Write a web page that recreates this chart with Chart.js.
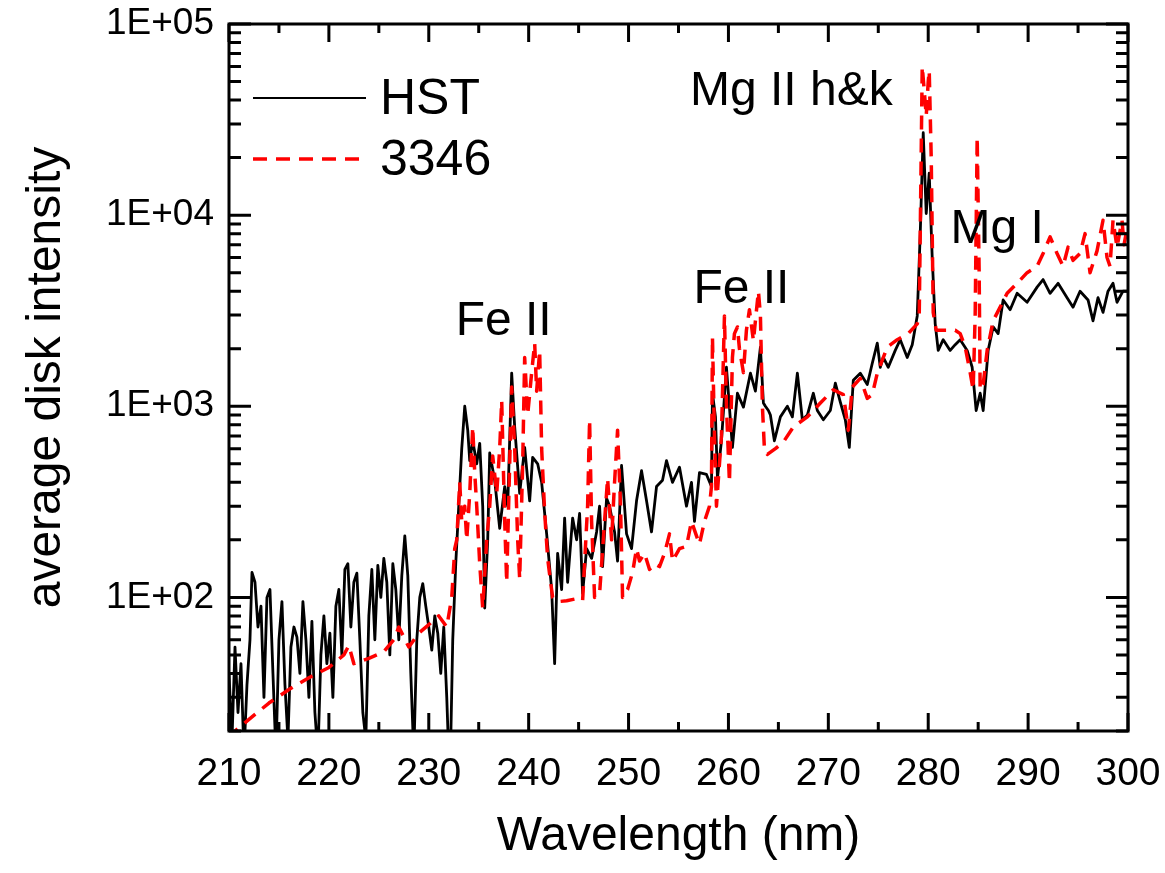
<!DOCTYPE html>
<html>
<head>
<meta charset="utf-8">
<script src="https://cdn.jsdelivr.net/npm/chart.js@4.4.0/dist/chart.umd.min.js"></script>
<style>
  html, body { margin: 0; padding: 0; background: #fff; }
</style>
</head>
<body>
<canvas id="spectrum" width="1165" height="873"></canvas>
<script>
// wavelength (nm) and intensity
const hstWavelength = [
  210.0, 210.3, 210.6, 210.9, 211.2, 211.5, 211.8, 212.1, 212.3, 212.6,
  212.9, 213.2, 213.5, 213.8, 214.1, 214.4, 214.7, 215.0, 215.3, 215.6,
  215.9, 216.2, 216.5, 216.8, 217.1, 217.4, 217.7, 218.0, 218.3, 218.6,
  218.9, 219.2, 219.5, 219.8, 220.1, 220.4, 220.7, 221.0, 221.3, 221.6,
  221.9, 222.2, 222.5, 222.8, 223.1, 223.4, 223.7, 224.0, 224.3, 224.6,
  224.9, 225.2, 225.5, 225.8, 226.1, 226.4, 226.7, 227.0, 227.3, 227.6,
  227.9, 228.2, 228.5, 228.8, 229.1, 229.4, 229.7, 230.0, 230.3, 230.6,
  230.9, 231.2, 231.5, 231.8, 232.0, 232.2, 232.4, 232.7, 233.0, 233.3,
  233.6, 233.9, 234.1, 234.4, 234.8, 235.1, 235.4, 235.6, 235.9, 236.1,
  236.6, 237.1, 237.6, 237.9, 238.3, 238.6, 239.1, 239.6, 240.1, 240.4,
  240.9, 241.3, 241.8, 242.3, 242.6, 242.9, 243.3, 243.6, 243.9, 244.4,
  244.8, 245.1, 245.4, 245.8, 246.3, 246.8, 247.1, 247.4, 247.8, 248.1,
  248.6, 248.9, 249.3, 249.8, 250.3, 250.8, 251.3, 251.8, 252.3, 252.8,
  253.4, 253.8, 254.4, 255.1, 255.8, 256.3, 256.6, 257.1, 257.8, 258.3,
  258.4, 258.7, 258.9, 259.3, 259.8, 260.4, 260.9, 261.5, 262.2, 262.7,
  263.2, 263.5, 263.7, 264.0, 264.2, 264.6, 265.2, 265.9, 266.4, 266.9,
  267.4, 267.9, 268.5, 268.9, 269.5, 270.2, 270.7, 271.2, 271.7, 272.1,
  272.5, 273.2, 273.9, 274.4, 274.9, 275.2, 275.5, 276.0, 276.7, 277.2,
  277.9, 278.4, 278.9, 279.2, 279.5, 279.8, 280.1, 280.4, 280.7, 281.0,
  281.5, 282.2, 282.7, 283.2, 283.9, 284.4, 284.8, 285.2, 285.5, 286.0,
  286.5, 287.0, 287.5, 288.2, 288.9, 289.9, 290.9, 291.5, 292.2, 293.0,
  293.9, 294.5, 295.2, 296.0, 296.5, 297.0, 297.5, 298.0, 298.5, 298.9,
  299.5, 300.0
];
const hstIntensity = [
  40, 18, 55, 25, 45, 15, 35, 60, 135, 120,
  70, 90, 30, 100, 110, 40, 15, 60, 95, 35,
  18, 55, 70, 62, 40, 95, 60, 30, 75, 25,
  15, 50, 80, 45, 65, 30, 90, 110, 50, 140,
  150, 70, 120, 134, 60, 25, 18, 80, 140, 60,
  147, 100, 160, 120, 50, 150, 110, 60, 130, 210,
  130, 40, 15, 60, 100, 118, 90, 70, 53, 80,
  65, 40, 70, 30, 15, 18, 60, 150, 300, 600,
  1000, 750, 520, 660, 500, 640, 300, 88, 200, 570,
  410, 230, 380, 300, 1490, 780, 350, 610, 320, 540,
  500, 400, 215, 110, 45, 170, 110, 260, 120, 260,
  200, 275, 105, 180, 160, 220, 300, 145, 330, 300,
  220, 155, 490, 215, 180, 320, 460, 320, 220, 380,
  410, 520, 400, 480, 300, 400, 250, 450, 440, 380,
  1170, 880, 420, 660, 1600, 610, 1170, 990, 1490, 1200,
  2040, 1040, 1000, 950, 900, 660, 880, 1000, 880, 1490,
  850, 900, 1170, 950, 850, 950, 1320, 1050, 850, 610,
  1370, 1490, 1300, 1680, 2140, 1600, 1800, 1600, 1960, 2230,
  1800, 2100, 2970, 8000, 27000, 10200, 16600, 6000, 2700, 1960,
  2230, 1960, 2100, 2230, 1960, 1600, 950, 1170, 950, 1960,
  2600, 2400, 3600, 3200, 3900, 3500, 4200, 4600, 3900, 4400,
  3700, 3300, 4000, 3600, 2800, 3700, 3100, 4000, 4400, 3500,
  4000, 4000
];

const sampleWavelength = [
  210.0, 210.6, 212.0, 214.0, 216.0, 218.0, 220.0, 221.5, 222.0, 222.5,
  224.0, 225.5, 226.5, 227.0, 228.0, 229.0, 230.0, 231.0, 231.8, 232.3,
  232.6, 232.8, 233.1, 233.3, 233.6, 233.8, 234.1, 234.4, 234.6, 234.8,
  235.1, 235.4, 235.8, 236.1, 236.4, 236.8, 237.1, 237.3, 237.6, 237.8,
  238.1, 238.3, 238.6, 238.9, 239.1, 239.4, 239.6, 239.9, 240.3, 240.6,
  240.8, 241.1, 241.3, 241.6, 241.9, 242.2, 242.4, 242.9, 243.8, 244.6,
  245.4, 245.9, 246.1, 246.3, 246.6, 247.1, 247.6, 247.9, 248.3, 248.6,
  248.9, 249.2, 249.4, 249.9, 250.4, 250.8, 251.1, 251.6, 252.1, 252.6,
  253.1, 253.6, 254.1, 254.4, 255.1, 255.8, 256.3, 256.8, 257.1, 257.6,
  258.1, 258.3, 258.4, 258.6, 258.8, 259.1, 259.3, 259.6, 259.8, 260.1,
  260.4, 260.6, 260.9, 261.1, 261.5, 261.8, 262.1, 262.5, 262.7, 263.0,
  263.2, 263.4, 263.6, 263.9, 264.7, 265.5, 266.5, 267.9, 269.2, 270.5,
  271.5, 271.8, 272.0, 272.4, 273.2, 273.9, 274.4, 274.9, 275.9, 276.9,
  278.0, 278.9, 279.1, 279.2, 279.4, 279.6, 279.8, 280.0, 280.1, 280.3,
  280.4, 280.5, 280.8, 281.7, 282.7, 283.2, 283.7, 284.2, 284.5, 284.7,
  284.9, 285.1, 285.2, 285.5, 285.9, 286.5, 287.2, 287.9, 288.9, 289.9,
  290.9, 291.5, 292.2, 292.9, 293.5, 294.0, 294.5, 295.2, 295.7, 296.2,
  296.9, 297.5, 297.9, 298.2, 298.5, 298.9, 299.4, 299.6, 300.0
];
const sampleIntensity = [
  18, 20, 23, 28, 33, 38, 43, 50, 56, 45,
  48, 52, 60, 70, 55, 65, 72, 80, 70, 100,
  180, 200, 400, 250, 300, 200, 350, 780, 450, 300,
  150, 88, 200, 300, 550, 350, 600, 1070, 250, 120,
  500, 1260, 600, 200, 125, 500, 1800, 900, 1500, 2140,
  1200, 1960, 600, 280, 160, 120, 100, 95, 96, 98,
  96, 300, 850, 250, 100, 105, 250, 420, 200, 400,
  750, 300, 100, 110, 135, 180, 155, 170, 140, 150,
  145, 170, 215, 155, 180, 185, 250, 210, 190, 250,
  300, 380, 2300, 700, 300, 500, 700, 2970, 1000, 400,
  1800, 2400, 2600, 2000, 1500, 2500, 3200, 2200, 2800, 4000,
  3000, 1000, 600, 560, 600, 650, 780, 880, 1040, 1220,
  1150, 900, 750, 1260, 1400, 1100, 1150, 1490, 2040, 2230,
  2400, 2700, 3000, 8000, 60000, 45000, 33000, 50000, 57000, 20000,
  8000, 3100, 2500, 2500, 2500, 2400, 2040, 1500, 1220, 3000,
  25600, 5000, 1220, 1300, 1960, 2800, 3300, 3900, 4400, 5000,
  5400, 6300, 7700, 6300, 5400, 6800, 5800, 6300, 8000, 5000,
  6500, 9400, 6000, 5400, 9400, 6800, 9400, 7000, 9000
];

const seriesNames = ['HST', '3346'];
const yDecades = [100, 1000, 10000, 100000];
const lineNames = ['Fe II', 'Fe II', 'Mg II h&k', 'Mg I'];
const lineNameNm = [237.5, 261.3, 266.3, 286.9];
const lineNameI = [2350, 3460, 37700, 7130];

const FONT = "'Liberation Sans', Arial, sans-serif";

function toPoints(xs, ys) {
  return xs.map((v, i) => ({ x: v, y: ys[i] }));
}

const framePlugin = {
  id: 'frame',
  afterDraw(chart) {
    const { ctx, chartArea: a, scales: { x, y } } = chart;
    ctx.save();
    ctx.strokeStyle = '#000';
    ctx.lineWidth = 3;
    ctx.beginPath();
    // x ticks, top and bottom, pointing in
    for (let v = 210; v <= 300; v += 5) {
      const px = x.getPixelForValue(v);
      const len = v % 10 === 0 ? 18 : 9;
      ctx.moveTo(px, a.bottom); ctx.lineTo(px, a.bottom - len);
      ctx.moveTo(px, a.top); ctx.lineTo(px, a.top + len);
    }
    // y ticks, left and right
    for (let e = 1; e <= 5; e++) {
      for (let m = 1; m <= 9; m++) {
        const v = m * Math.pow(10, e);
        if (v < y.min || v > y.max) continue;
        const py = y.getPixelForValue(v);
        const len = m === 1 ? 22 : 12;
        ctx.moveTo(a.left, py); ctx.lineTo(a.left + len, py);
        ctx.moveTo(a.right, py); ctx.lineTo(a.right - len, py);
      }
    }
    ctx.stroke();
    ctx.strokeRect(a.left, a.top, a.right - a.left, a.bottom - a.top);

    // line identifications
    ctx.fillStyle = '#000';
    ctx.font = '48px ' + FONT;
    ctx.textAlign = 'center';
    ctx.textBaseline = 'alphabetic';
    lineNames.forEach((t, i) => {
      ctx.fillText(t, x.getPixelForValue(lineNameNm[i]), y.getPixelForValue(lineNameI[i]));
    });

    // legend
    const rows = [chart.data.datasets[1], chart.data.datasets[0]];
    ctx.textAlign = 'left';
    ctx.textBaseline = 'middle';
    ctx.font = '50px ' + FONT;
    rows.forEach((ds, i) => {
      const ly = a.top + 74 + i * 61;
      ctx.beginPath();
      ctx.strokeStyle = ds.borderColor;
      ctx.lineWidth = i === 0 ? 2 : 3.5;
      ctx.setLineDash(ds.borderDash || []);
      ctx.moveTo(a.left + 24, ly);
      ctx.lineTo(a.left + 137, ly);
      ctx.stroke();
      ctx.setLineDash([]);
      ctx.fillText(ds.label, a.left + 151, ly + 2);
    });
    ctx.restore();
  }
};

new Chart(document.getElementById('spectrum'), {
  type: 'line',
  data: {
    datasets: [
      {
        label: seriesNames[1],
        data: toPoints(sampleWavelength, sampleIntensity),
        borderColor: '#ff0000',
        borderWidth: 3.5,
        borderDash: [14, 9],
        borderJoinStyle: 'round',
        pointRadius: 0,
        tension: 0,
        order: 0
      },
      {
        label: seriesNames[0],
        data: toPoints(hstWavelength, hstIntensity),
        borderColor: '#000000',
        borderWidth: 2.8,
        borderJoinStyle: 'round',
        pointRadius: 0,
        tension: 0,
        order: 1
      }
    ]
  },
  options: {
    responsive: false,
    animation: false,
    devicePixelRatio: 1,
    layout: { padding: { top: 24, right: 37, left: 0, bottom: 0 } },
    plugins: { legend: { display: false }, tooltip: { enabled: false } },
    scales: {
      x: {
        type: 'linear',
        min: 210,
        max: 300,
        grid: { display: false },
        border: { display: false },
        ticks: { stepSize: 10, color: '#000', font: { family: FONT, size: 39 }, padding: 12, maxRotation: 0 },
        title: { display: true, text: 'Wavelength (nm)', color: '#000', font: { family: FONT, size: 48 }, padding: { bottom: 7 } },
        afterFit(scale) {
          scale.height = 142;
          scale.paddingLeft = 0;
          scale.paddingRight = 0;
        }
      },
      y: {
        type: 'logarithmic',
        min: 20,
        max: 100000,
        grid: { display: false },
        border: { display: false },
        afterBuildTicks(scale) { scale.ticks = yDecades.map(v => ({ value: v })); },
        ticks: {
          color: '#000',
          font: { family: FONT, size: 37 },
          padding: 7,
          callback: v => '1E+' + String(Math.round(Math.log10(v))).padStart(2, '0')
        },
        title: { display: true, text: 'average disk intensity', color: '#000', font: { family: FONT, size: 48 }, padding: { top: 18 } },
        afterFit(scale) {
          scale.width = 229;
          scale.paddingTop = 0;
          scale.paddingBottom = 0;
        }
      }
    }
  },
  plugins: [framePlugin]
});
</script>
</body>
</html>
